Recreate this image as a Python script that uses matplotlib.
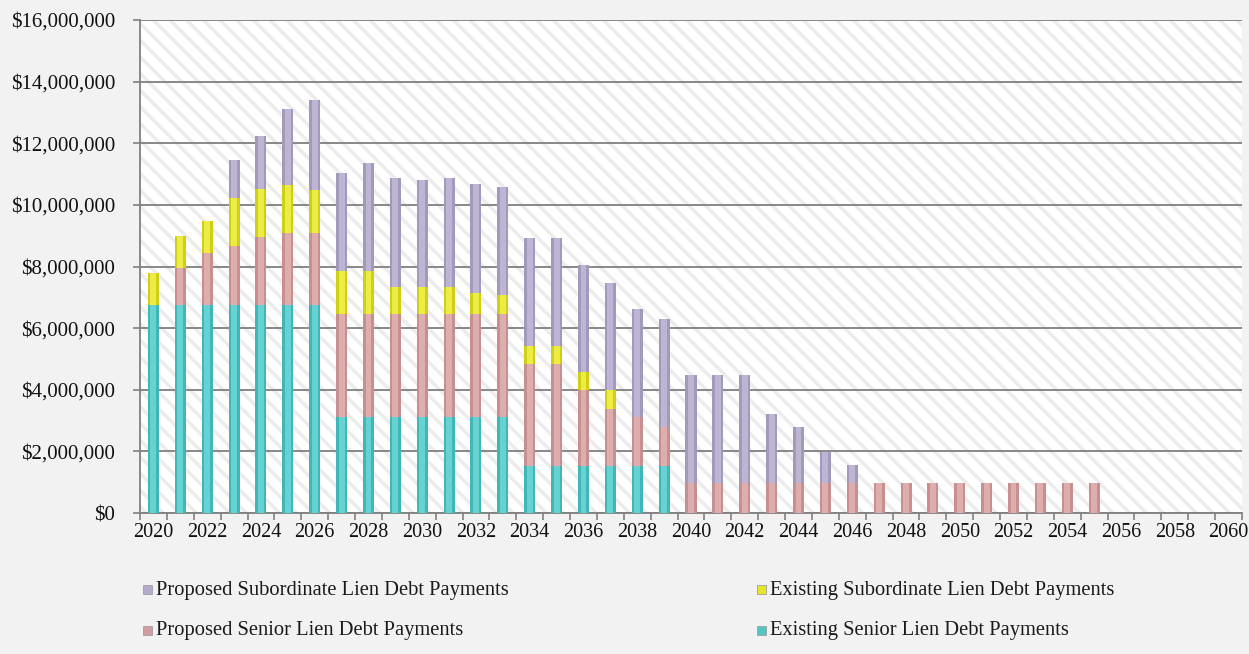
import numpy as np
import matplotlib
matplotlib.use("Agg")
import matplotlib.pyplot as plt
from matplotlib.patches import Rectangle
from matplotlib.ticker import FuncFormatter

plt.rcParams['font.family'] = ['Liberation Serif', 'DejaVu Serif']
plt.rcParams['hatch.color'] = '#ececec'
plt.rcParams['hatch.linewidth'] = 2.5

# category axis runs 2020-2060, payments run 2020-2055
axis_years = list(range(2020, 2061))
years = list(range(2020, 2056))

# annual payments, $ millions
existing_senior = [6.75, 6.75, 6.75, 6.75, 6.75, 6.75, 6.75,
                   3.10, 3.10, 3.10, 3.10, 3.10, 3.10, 3.10,
                   1.52, 1.52, 1.52, 1.52, 1.52, 1.52,
                   0, 0, 0, 0, 0, 0, 0, 0, 0, 0, 0, 0, 0, 0, 0, 0]
proposed_senior = [0, 1.20, 1.70, 1.90, 2.22, 2.35, 2.35,
                   3.37, 3.37, 3.37, 3.37, 3.37, 3.37, 3.37,
                   3.31, 3.31, 2.46, 1.87, 1.58, 1.27,
                   0.96, 0.96, 0.96, 0.96, 0.96, 0.96, 0.96, 0.96,
                   0.96, 0.96, 0.96, 0.96, 0.96, 0.96, 0.96, 0.96]
existing_sub = [1.05, 1.04, 1.03, 1.57, 1.55, 1.53, 1.39,
                1.39, 1.39, 0.85, 0.85, 0.87, 0.67, 0.60,
                0.58, 0.58, 0.59, 0.59, 0, 0,
                0, 0, 0, 0, 0, 0, 0, 0, 0, 0, 0, 0, 0, 0, 0, 0]
proposed_sub = [0, 0, 0, 1.24, 1.70, 2.48, 2.92,
                3.18, 3.50, 3.54, 3.50, 3.52, 3.53, 3.51,
                3.52, 3.52, 3.47, 3.47, 3.51, 3.51,
                3.52, 3.52, 3.52, 2.26, 1.84, 1.02, 0.61,
                0, 0, 0, 0, 0, 0, 0, 0, 0]

series = [
    ("Existing Senior Lien Debt Payments", existing_senior, "#40b6b6", "#66d2d2"),
    ("Proposed Senior Lien Debt Payments", proposed_senior, "#c69090", "#deadad"),
    ("Existing Subordinate Lien Debt Payments", existing_sub, "#cfcf18", "#ecec44"),
    ("Proposed Subordinate Lien Debt Payments", proposed_sub, "#a399bb", "#beb5d4"),
]

fig = plt.figure(figsize=(12.49, 6.54), dpi=100)
fig.patch.set_facecolor('#f2f2f2')
ax = fig.add_axes([140 / 1249, 1 - 513 / 654, 1102 / 1249, 493 / 654])
ax.set_facecolor('white')
ax.patch.set_hatch('\\\\')
ax.patch.set_edgecolor('#ececec')
ax.patch.set_linewidth(0)

pos = np.array([axis_years.index(y) for y in years])
bottom = np.zeros(len(years))
for label, vals, dark, light in series:
    v = np.array(vals) * 1e6
    mask = v > 0
    # outer bar in the darker shade, narrower lighter core on top for a rounded look
    ax.bar(pos[mask], v[mask], width=0.41, bottom=bottom[mask], color=dark,
           linewidth=0, zorder=3)
    ax.bar(pos[mask], v[mask], width=0.22, bottom=bottom[mask], color=light,
           linewidth=0, zorder=4)
    bottom += v

ax.set_xlim(-0.5, len(axis_years) - 0.5)
ax.set_ylim(0, 16e6)
ax.set_yticks(np.arange(0, 16e6 + 1, 2e6))
ax.yaxis.set_major_formatter(FuncFormatter(lambda v, p: f"${v:,.0f}"))
ax.grid(axis='y', color='#7f7f7f', linewidth=1.3, zorder=1)
ax.set_axisbelow(True)

ax.set_xticks(range(0, len(axis_years), 2))
ax.set_xticklabels([str(y) for y in axis_years[::2]])
ax.set_xticks(np.arange(-0.5, len(axis_years)), minor=True)
ax.tick_params(axis='x', which='major', length=0, pad=7, labelsize=14.5,
               labelcolor='#111111')
ax.tick_params(axis='x', which='minor', length=5, width=1.2, color='#808080', direction='out')
ax.tick_params(axis='y', length=5, width=1.2, color='#808080', pad=13, labelsize=15,
               labelcolor='#111111')

for side in ['top', 'right']:
    ax.spines[side].set_visible(False)
for side in ['left', 'bottom']:
    ax.spines[side].set_color('#808080')
    ax.spines[side].set_linewidth(1.3)

# legend laid out in two columns below the plot
legend_items = [
    ("Proposed Subordinate Lien Debt Payments", "#b5aacb", 143, 589),
    ("Existing Subordinate Lien Debt Payments", "#e6e62a", 757, 589),
    ("Proposed Senior Lien Debt Payments", "#d49c9c", 143, 630),
    ("Existing Senior Lien Debt Payments", "#55c4c4", 757, 630),
]
for text, color, xp, yp in legend_items:
    fig.patches.append(Rectangle((xp / 1249, 1 - (yp + 5) / 654), 9 / 1249, 9 / 654,
                                 transform=fig.transFigure, facecolor=color,
                                 edgecolor='#a0a0a0', linewidth=0.6))
    fig.text((xp + 13) / 1249, 1 - (yp + 1) / 654, text, fontsize=14.8, va='center',
             ha='left', color='#1a1a1a')

fig.savefig("out.png", dpi=100, facecolor=fig.get_facecolor())
